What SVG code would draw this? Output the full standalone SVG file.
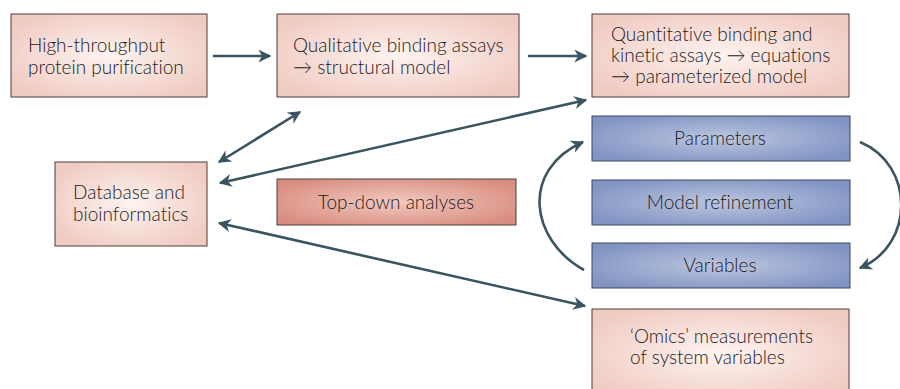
<svg xmlns="http://www.w3.org/2000/svg" width="900" height="389" viewBox="0 0 900 389">
<style>
.t{font-family:Lato,"Open Sans","Liberation Sans",sans-serif;font-size:19px;font-weight:300;font-variant-ligatures:none;fill:#1e1b1b}
.c{text-anchor:middle}
.pk{fill:url(#gp);stroke:#4a3c3c;stroke-width:1}
.td{fill:url(#gt);stroke:#4a3c3c;stroke-width:1}
.bl{fill:url(#gb);stroke:#3f4660;stroke-width:1}
.ln{fill:none;stroke:#3b5461;stroke-width:2.6}
</style>
<defs>
<radialGradient id="gp" cx="0.5" cy="0.5" r="0.6"><stop offset="0" stop-color="#fdf3f0"/><stop offset="1" stop-color="#f0cbc2"/></radialGradient>
<radialGradient id="gt" cx="0.5" cy="0.5" r="0.6"><stop offset="0" stop-color="#f1c9c0"/><stop offset="1" stop-color="#d98d80"/></radialGradient>
<radialGradient id="gb" cx="0.5" cy="0.5" r="0.6"><stop offset="0" stop-color="#bcc6df"/><stop offset="1" stop-color="#8093c2"/></radialGradient>
<marker id="ah" viewBox="0 0 10 10" refX="9" refY="5" markerWidth="5" markerHeight="5" orient="auto-start-reverse" markerUnits="strokeWidth"><path d="M0,0 L10,5 L0,10 L3,5 Z" fill="#3b5461"/></marker>
</defs>
<g id="connectors">
<line class="ln" x1="213" y1="56" x2="270" y2="56" marker-end="url(#ah)"/>
<line class="ln" x1="528" y1="56" x2="586" y2="56" marker-end="url(#ah)"/>
<line class="ln" x1="219" y1="162" x2="300" y2="112" marker-start="url(#ah)" marker-end="url(#ah)"/>
<line class="ln" x1="220" y1="183" x2="586" y2="100" marker-start="url(#ah)" marker-end="url(#ah)"/>
<line class="ln" x1="219" y1="223" x2="585" y2="306" marker-start="url(#ah)" marker-end="url(#ah)"/>
<path class="ln" d="M584,270 C530,240 520,170 583,142" marker-end="url(#ah)"/>
<path class="ln" d="M860,142 C915,165 915,245 860,268" marker-end="url(#ah)"/>
</g>
<g id="n1"><rect class="pk" x="11" y="14" width="196" height="83"/>
<text class="t" x="28" y="52">High-throughput</text><text class="t" x="28" y="74">protein purification</text></g>
<g id="n2"><rect class="pk" x="277" y="14" width="242" height="83"/>
<text class="t" x="293" y="52">Qualitative binding assays</text><text class="t" x="293" y="74">→ structural model</text></g>
<g id="n3"><rect class="pk" x="592" y="14" width="257" height="83"/>
<text class="t" x="611" y="41">Quantitative binding and</text><text class="t" x="611" y="62">kinetic assays → equations</text><text class="t" x="611" y="83">→ parameterized model</text></g>
<g id="n4"><rect class="pk" x="55" y="162" width="152" height="84"/>
<text class="t" x="73" y="199">Database and</text><text class="t" x="73" y="221">bioinformatics</text></g>
<g id="n5"><rect class="td" x="277" y="179" width="239" height="46"/>
<text class="t c" x="396" y="209">Top-down analyses</text></g>
<g id="n6"><rect class="bl" x="592" y="116" width="258" height="45"/>
<text class="t c" x="720" y="145">Parameters</text></g>
<g id="n7"><rect class="bl" x="592" y="180" width="258" height="45"/>
<text class="t c" x="720" y="209">Model refinement</text></g>
<g id="n8"><rect class="bl" x="592" y="243" width="258" height="45"/>
<text class="t c" x="720" y="272">Variables</text></g>
<g id="n9"><rect class="pk" x="592" y="309" width="257" height="90"/>
<text class="t" x="630" y="343">‘Omics’ measurements</text><text class="t" x="630" y="364">of system variables</text></g>
</svg>
